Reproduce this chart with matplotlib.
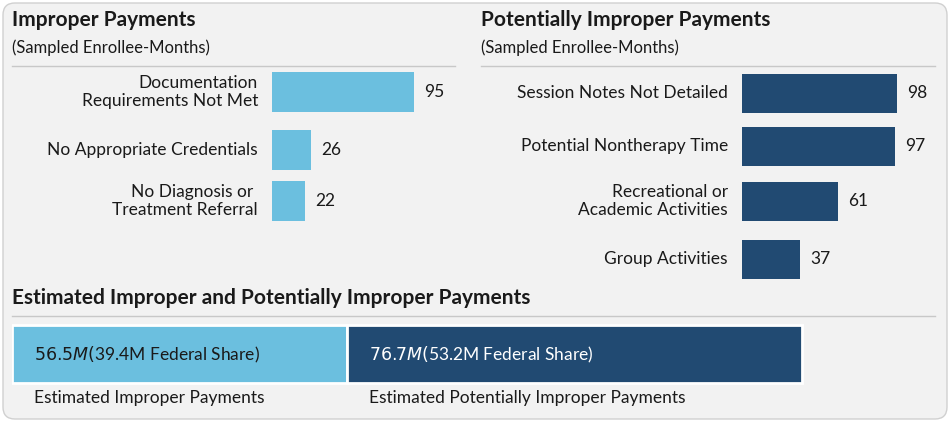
import matplotlib
matplotlib.use("Agg")
import matplotlib.pyplot as plt
from matplotlib.patches import FancyBboxPatch

W, H = 950, 422
LIGHT = "#6bbfdf"
DARK = "#214a72"
INK = "#1a1a1a"
FONT = "Lato"

improper_labels = ["Documentation\nRequirements Not Met", "No Appropriate Credentials",
                   "No Diagnosis or \nTreatment Referral"]
improper_values = [95, 26, 22]
potential_labels = ["Session Notes Not Detailed", "Potential Nontherapy Time",
                    "Recreational or\nAcademic Activities", "Group Activities"]
potential_values = [98, 97, 61, 37]
estimate_labels = ["Estimated Improper Payments", "Estimated Potentially Improper Payments"]
estimate_values = [56.5, 76.7]
estimate_text = ["$56.5M ($39.4M Federal Share)", "$76.7M ($53.2M Federal Share)"]

plt.rcParams["font.family"] = FONT
fig = plt.figure(figsize=(W / 100, H / 100), dpi=100)
fig.patch.set_facecolor("white")


def px_axes(x0, y0, x1, y1):
    ax = fig.add_axes([x0 / W, 1 - y1 / H, (x1 - x0) / W, (y1 - y0) / H])
    ax.axis("off")
    return ax


bg = px_axes(0, 0, W, H)
bg.set_xlim(0, W)
bg.set_ylim(H, 0)
bg.add_patch(FancyBboxPatch((3, 3), W - 6, H - 6, boxstyle="round,pad=0,rounding_size=12",
                            fc="#f2f2f2", ec="#d0d0d0", lw=1))
for x0, x1, y in [(12, 455, 66), (481, 935, 66), (12, 935, 316)]:
    bg.plot([x0, x1], [y, y], color="#c8c8c8", lw=1)


def fx(x):
    return x / W


def fy(y):
    return 1 - y / H


fig.text(fx(12), fy(20), "Improper Payments", fontsize=15, fontweight="bold", color=INK, va="center")
fig.text(fx(12), fy(48), "(Sampled Enrollee-Months)", fontsize=12, color=INK, va="center")
fig.text(fx(481), fy(20), "Potentially Improper Payments", fontsize=15, fontweight="bold",
         color=INK, va="center")
fig.text(fx(481), fy(48), "(Sampled Enrollee-Months)", fontsize=12, color=INK, va="center")
fig.text(fx(12), fy(298), "Estimated Improper and Potentially Improper Payments", fontsize=15,
         fontweight="bold", color=INK, va="center")


def hbars(x0, scale, centers, height, labels, values, color, y0, y1):
    ax = px_axes(x0, y0, x0 + scale * 100, y1)
    ax.set_xlim(0, 100)
    ax.set_ylim(y1, y0)
    ax.barh(centers, values, height=height, color=color)
    for c, lab, v in zip(centers, labels, values):
        ax.text(-14 / scale, c, lab, ha="right", va="center", fontsize=12.5, color=INK,
                linespacing=1.1)
        ax.text(v + 10 / scale, c, str(v), ha="left", va="center", fontsize=12.5, color=INK)


hbars(272, 1.495, [92, 150, 201], 40, improper_labels, improper_values, LIGHT, 66, 230)
hbars(742, 1.58, [93, 146, 201, 259], 39, potential_labels, potential_values, DARK, 66, 285)

# bottom stacked bar
ax = px_axes(12, 320, 12 + 5.93 * 135, 410)
ax.set_xlim(0, 135)
ax.set_ylim(410, 320)
left = 0
for v, txt, lab, col in zip(estimate_values, estimate_text, estimate_labels, [LIGHT, DARK]):
    ax.barh(354, v, left=left, height=58, color=col, edgecolor="white", lw=2)
    ax.text(left + 22 / 5.93, 355, txt, ha="left", va="center", fontsize=12.5,
            color=INK if col == LIGHT else "white")
    ax.text(left + 22 / 5.93, 398, lab, ha="left", va="center", fontsize=12.5, color=INK)
    left += v

fig.savefig("out.png", dpi=100, facecolor="white")
